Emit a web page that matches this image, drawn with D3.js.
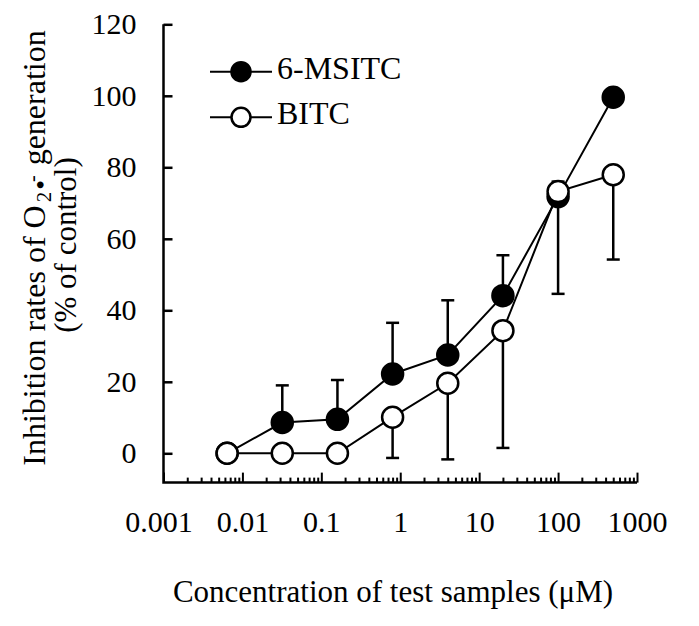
<!DOCTYPE html>
<html>
<head>
<meta charset="utf-8">
<script src="https://cdn.jsdelivr.net/npm/d3@7"></script>
<style>
  body { margin: 0; background: #fff; }
</style>
</head>
<body>
<div id="chart"></div>
<script>
// concentrations (uM)
var conc = [0.0064, 0.032, 0.16, 0.8, 4, 20, 100, 500];

// 6-MSITC: mean and upper error
var msitc = [0, 8.6, 9.5, 22.2, 27.5, 44.1, 71.8, 99.6];
var msitcErr = [0, 10.4, 11.0, 14.3, 15.3, 11.3, 4.2, 0];

// BITC: mean and lower error
var bitc = [0, 0, 0, 10.1, 19.6, 34.3, 73.2, 77.9];
var bitcErr = [0, 0, 0, 11.4, 21.3, 32.8, 28.6, 23.7];

var yTicks = [0, 20, 40, 60, 80, 100, 120];
var xTicks = [0.001, 0.01, 0.1, 1, 10, 100, 1000];
var xTickLabels = ["0.001", "0.01", "0.1", "1", "10", "100", "1000"];

var width = 699, height = 626;
var FONT = "'Liberation Serif', 'Times New Roman', serif";

var svg = d3.select("#chart").append("svg")
    .attr("width", width)
    .attr("height", height)
    .attr("font-family", FONT);

var x = d3.scaleLog()
    .domain([0.001, 1000])
    .range([163.5, 637]);

var y = d3.scaleLinear()
    .domain([0, 120])
    .range([453.3, 24.3]);

var yBottom = y(-8.2);

// minor ticks for log axis
var minor = [];
xTicks.slice(0, -1).forEach(function (d) {
    for (var k = 2; k <= 9; k++) minor.push(d * k);
});

// x axis
var xAxisMinor = svg.append("g")
    .attr("transform", "translate(0," + yBottom + ")")
    .call(d3.axisBottom(x).tickValues(minor).tickSize(-5).tickFormat(""));
xAxisMinor.select(".domain").remove();

var xAxis = svg.append("g")
    .attr("transform", "translate(0," + yBottom + ")")
    .call(d3.axisBottom(x)
        .tickValues(xTicks)
        .tickSize(-10)
        .tickPadding(28)
        .tickFormat(function (d, i) { return xTickLabels[i]; }));
xAxis.select(".domain").remove();

svg.selectAll(".tick line").attr("stroke", "#000").attr("stroke-width", 2);
xAxis.selectAll("text").style("font-size", "30px");
// the first label sits a little left of its tick
xAxis.select(".tick text").attr("dx", -5);

// y axis
var yAxis = svg.append("g")
    .attr("transform", "translate(" + x(0.001) + ",0)")
    .call(d3.axisLeft(y)
        .tickValues(yTicks)
        .tickSize(-9)
        .tickPadding(27));
yAxis.select(".domain").remove();
yAxis.selectAll(".tick line").attr("stroke", "#000").attr("stroke-width", 2.5);
yAxis.selectAll("text").style("font-size", "30px");

// axis lines
svg.append("path")
    .attr("d", "M" + x(0.001) + "," + y(120) + "V" + yBottom + "H" + x(1000))
    .attr("fill", "none")
    .attr("stroke", "#000")
    .attr("stroke-width", 2.5);

var line = d3.line()
    .x(function (d) { return x(d[0]); })
    .y(function (d) { return y(d[1]); });

function drawSeries(vals, errs, dir, fill) {
    var g = svg.append("g");
    var pts = conc.map(function (c, i) { return [c, vals[i], errs[i]]; });

    // error bars
    var eb = g.selectAll(".err")
        .data(pts.filter(function (d) { return d[2] > 0; }))
        .enter().append("g");
    eb.append("line")
        .attr("x1", function (d) { return x(d[0]); })
        .attr("x2", function (d) { return x(d[0]); })
        .attr("y1", function (d) { return y(d[1]); })
        .attr("y2", function (d) { return y(d[1] + dir * d[2]); })
        .attr("stroke", "#000").attr("stroke-width", 2.5);
    eb.append("line")
        .attr("x1", function (d) { return x(d[0]) - 6.5; })
        .attr("x2", function (d) { return x(d[0]) + 6.5; })
        .attr("y1", function (d) { return y(d[1] + dir * d[2]); })
        .attr("y2", function (d) { return y(d[1] + dir * d[2]); })
        .attr("stroke", "#000").attr("stroke-width", 2.5);

    g.append("path")
        .datum(pts)
        .attr("d", line)
        .attr("fill", "none")
        .attr("stroke", "#000")
        .attr("stroke-width", 2);

    g.selectAll("circle")
        .data(pts)
        .enter().append("circle")
        .attr("cx", function (d) { return x(d[0]); })
        .attr("cy", function (d) { return y(d[1]); })
        .attr("r", 10.5)
        .attr("fill", fill)
        .attr("stroke", "#000")
        .attr("stroke-width", 2.5);
}

drawSeries(msitc, msitcErr, 1, "#000");
drawSeries(bitc, bitcErr, -1, "#fff");

// legend
var legend = [
    { name: "6-MSITC", fill: "#000", y: 71.7 },
    { name: "BITC", fill: "#fff", y: 117.3 }
];
var lg = svg.selectAll(".legend")
    .data(legend)
    .enter().append("g")
    .attr("transform", function (d) { return "translate(0," + d.y + ")"; });
lg.append("line")
    .attr("x1", 210).attr("x2", 272)
    .attr("stroke", "#000").attr("stroke-width", 2);
lg.append("circle")
    .attr("cx", 241).attr("r", 9.5)
    .attr("fill", function (d) { return d.fill; })
    .attr("stroke", "#000").attr("stroke-width", 2.5);
lg.append("text")
    .attr("x", 277)
    .attr("y", 7)
    .style("font-size", "32px")
    .text(function (d) { return d.name; });

// axis titles
svg.append("text")
    .attr("x", 393)
    .attr("y", 602)
    .attr("text-anchor", "middle")
    .style("font-size", "31px")
    .text("Concentration of test samples (\u03bcM)");

var yl = svg.append("text")
    .attr("transform", "translate(45,248) rotate(-90)")
    .attr("text-anchor", "middle")
    .style("font-size", "32px");
yl.append("tspan").text("Inhibition rates of O");
yl.append("tspan").attr("dx", 3).attr("dy", 6).style("font-size", "21px").text("2");
yl.append("tspan").attr("dx", 2).attr("dy", -1).style("font-size", "28px").text("\u2022");
yl.append("tspan").attr("dx", -2).attr("dy", -11).style("font-size", "20px").text("-");
yl.append("tspan").attr("dx", 2).attr("dy", 6).text(" generation");

svg.append("text")
    .attr("transform", "translate(76,245) rotate(-90)")
    .attr("text-anchor", "middle")
    .style("font-size", "31px")
    .text("(% of control)");

// force serif font on every label (axis groups set their own family)
svg.selectAll("text").style("font-family", FONT).attr("fill", "#000");
</script>
</body>
</html>
